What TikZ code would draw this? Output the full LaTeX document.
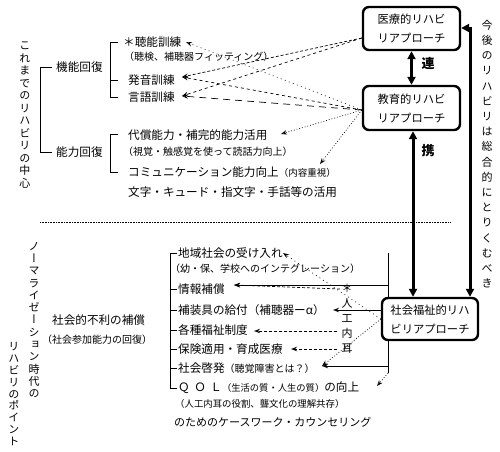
\documentclass[tikz,border=0pt]{standalone}
\usepackage{fontspec}
\setmainfont{Noto Sans CJK JP}
\newfontfamily\vfont[RawFeature=+vert]{Noto Sans CJK JP}
\usetikzlibrary{arrows.meta}
\newcommand\subf{\fontsize{10}{12}\selectfont}
\begin{document}
\begin{tikzpicture}[x=1pt,y=-1pt,
  txt/.style={anchor=west,inner sep=0pt,font=\fontsize{11.6}{14}\selectfont},
  sub/.style={anchor=west,inner sep=0pt,font=\subf},
  vtxt/.style={inner sep=0pt,align=center},
  rbox/.style={draw,line width=2.4pt,rounded corners=6pt,fill=white,align=center,inner sep=0pt,font=\fontsize{11.3}{19}\selectfont},
  bigarrow/.style={line width=3pt,{Triangle[length=8pt,width=8pt]}-{Triangle[length=8pt,width=8pt]}},
  ln/.style={line width=0.8pt},
  arr/.style={line width=0.7pt,-{Stealth[open,length=6pt,width=4.5pt]}},
  dsh/.style={dash pattern=on 3pt off 2pt},
  msh/.style={dash pattern=on 3pt off 3pt},
  ldsh/.style={dash pattern=on 7pt off 5pt},
  dtt/.style={dash pattern=on 0.8pt off 2pt},
  sdtt/.style={dash pattern=on 0.8pt off 3.5pt},
  lbl/.style={inner sep=0pt,font=\bfseries\fontsize{13}{13}\selectfont},
]
\useasboundingbox (0,0) rectangle (500,451);

% ---------- boxes ----------
\node[rbox,minimum width=97pt,minimum height=43pt] (iryo) at (411.5,28.5) {医療的リハビ\\リアプローチ};
\node[rbox,minimum width=97pt,minimum height=44pt] (kyo) at (411.5,108) {教育的リハビ\\リアプローチ};
\node[rbox,minimum width=96pt,minimum height=42pt] (sha) at (430,319) {社会福祉的リハ\\ビリアプローチ};

\coordinate (cx) at (413,0);
\coordinate (rc) at (470,28);
\draw[bigarrow] (iryo) -- (kyo);
\draw[bigarrow] (kyo.south -| cx) -- (sha.north -| cx);
\draw[bigarrow] (sha.north -| rc) -- (rc) -- (iryo.east |- rc);
\node[lbl] (ren) at (428,63) {連};
\node[lbl] (kei) at (428,151) {携};

% ---------- vertical texts ----------
\node[vtxt,font=\vfont\fontsize{11}{12.5}\selectfont] (v1) at (25,115) {こ\\れ\\ま\\で\\の\\リ\\ハ\\ビ\\リ\\の\\中\\心};
\node[vtxt,font=\vfont\fontsize{11}{12.3}\selectfont] (v2) at (34,320) {ノ\\ー\\マ\\ラ\\イ\\ゼ\\ー\\シ\\ョ\\ン\\時\\代\\の};
\node[vtxt,font=\vfont\fontsize{11}{11.8}\selectfont] (v3) at (14,394) {リ\\ハ\\ビ\\リ\\の\\ポ\\イ\\ン\\ト};
\node[vtxt,font=\vfont\fontsize{11}{15.2}\selectfont] (kongo) at (487,154) {今\\後\\の\\リ\\ハ\\ビ\\リ\\は\\総\\合\\的\\に\\と\\り\\く\\む\\べ\\き};
\node[vtxt,font=\vfont\fontsize{11}{15}\selectfont] (naiji) at (347,319) {＊\\人\\工\\内\\耳};

% ---------- upper part ----------
\node[txt] (kino) at (56,67) {機能回復};
\node[txt] (noryoku) at (56,152) {能力回復};
\draw[ln] ([xshift=-4pt]kino.west) -- ++(-12,0) |- ([xshift=-4pt]noryoku.west);

\node[txt] (chono) at (123,42) {＊聴能訓練};
\node[sub] (choken) at (124,57) {（聴検、補聴器フィッティング）};
\node[txt] (hatsuon) at (128,80) {発音訓練};
\node[txt] (gengo) at (128,97) {言語訓練};
\draw[ln] (118,42) -- (110,42) -- (110,97) -- (118,97);
\draw[ln] (110,80) -- (118,80);

\node[txt] (daisho) at (128,135) {代償能力・補完的能力活用};
\node[sub] (shikaku) at (123,152) {（視覚・触感覚を使って読話力向上）};
\node[txt] (comm) at (128,172) {コミュニケーション能力向上{\fontsize{9.5}{12}\selectfont （内容重視）}};
\node[txt] (moji) at (128,192) {文字・キュード・指文字・手話等の活用};
\draw[ln] (118,134) -- (110,134) -- (110,172) -- (118,172);

\draw[line width=0.6pt,dash pattern=on 0.7pt off 0.9pt] (40,222) -- (450,222);

% arrows upper
\coordinate (iA) at ([yshift=-9.5pt]iryo.west);
\coordinate (kA) at ([yshift=-2pt]kyo.west);
\coordinate (t1) at (186,42);
\coordinate (t2) at (182,77);
\coordinate (t3) at (182,96);
\coordinate (t4) at (281,134);
\coordinate (t5) at (320,164);
\draw[arr,dsh] (iA) -- (t2);
\draw[arr,msh] (iA) -- (t3);
\draw[arr,sdtt] (kA) -- (t1);
\draw[arr,msh] (kA) -- (t2);
\draw[arr,ldsh] (kA) -- (t3);
\draw[arr,dtt] (kA) -- (t4);
\draw[arr,dtt] (kA) -- (t5);

% ---------- lower part ----------
\node[txt] (furi) at (52,320) {社会的不利の補償};
\node[sub] (sanka) at (42,340) {（社会参加能力の回復）};

\node[txt] (chiiki) at (178,253) {地域社会の受け入れ};
\node[sub] (yoho) at (170,269) {（幼・保、学校へのインテグレーション）};
\node[txt] (joho) at (178,289) {情報補償};
\node[txt] (hoso) at (178,310) {補装具の給付（補聴器ーα）};
\node[txt] (kakushu) at (178,330) {各種福祉制度};
\node[txt] (hoken) at (178,349) {保険適用・育成医療};
\node[txt] (keihatsu) at (178,368) {社会啓発{\subf （聴覚障害とは？）}};
\node[txt] (qol) at (178,388) {Ｑ\hspace{4.5pt}Ｏ\hspace{4.5pt}Ｌ{\fontsize{9.3}{12}\selectfont （生活の質・人生の質）}の向上};
\node[anchor=west,inner sep=0pt,font=\fontsize{9.4}{12}\selectfont] (jinko) at (175,404) {（人工内耳の役割、聾文化の理解共存）};
\node[anchor=west,inner sep=0pt,font=\fontsize{11}{13}\selectfont] (casework) at (174,422) {のためのケースワーク・カウンセリング};

\draw[ln] (177,253) -- (170,253) -- (170,388) -- (177,388);
\foreach \yy in {289,310,330,349,368} \draw[ln] (170,\yy) -- (177,\yy);

% arrows lower
\coordinate (vtop) at (388,253);
\coordinate (vbot) at (388,373);
\coordinate (sA) at (sha.west);
\coordinate (b1) at (283,253);
\coordinate (b2) at (234,285);
\coordinate (b3) at (333,310);
\coordinate (b4) at (254,331);
\coordinate (b5) at (291,349);
\coordinate (b6) at (322,366);
\coordinate (b7) at (377,386);
\coordinate (j1) at (340,289);

\draw[ln] (vtop) -- (sha.north -| vtop);
\draw[ln] (sha.south -| vtop) -- (vbot);
\draw[arr] (vtop |- b2) -- (b2);
\draw[arr] (sha.west |- b3) -- (b3);
\draw[arr] (vtop |- b6) -- (b6);
\draw[arr,dtt] (vbot) -- (b7);
\draw[arr,sdtt] (sA) -- (b1);
\draw[arr,dtt] (sA) -- (b6);
\draw[arr,dsh] (j1) -- (b2);
\draw[arr,dsh] ([xshift=-4pt]naiji.west |- b4) -- (b4);
\draw[arr,dsh] ([xshift=-4pt]naiji.west |- b5) -- (b5);
\end{tikzpicture}
\end{document}
